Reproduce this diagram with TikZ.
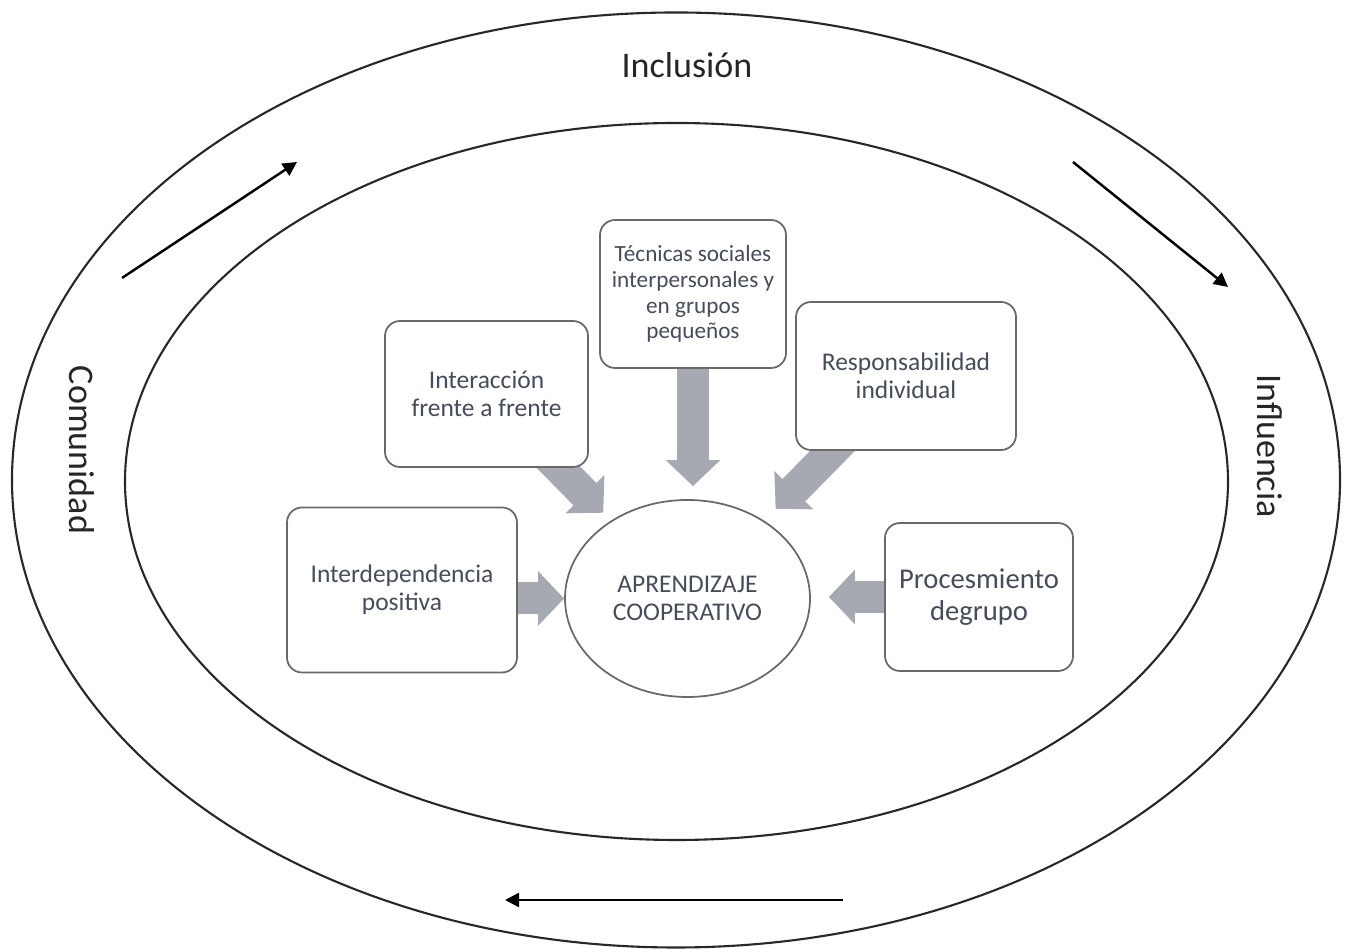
\documentclass[tikz,border=0pt]{standalone}
\usepackage{fontspec}
\setmainfont{Carlito}
\usetikzlibrary{arrows.meta, backgrounds, shapes.geometric}

\definecolor{boxtext}{RGB}{70,76,90}
\definecolor{boxline}{RGB}{105,105,105}
\definecolor{blockgray}{RGB}{166,168,178}
\definecolor{ringline}{RGB}{40,40,40}

\begin{document}
\begin{tikzpicture}[
    box/.style={draw=boxline, line width=1pt, rounded corners=0.3cm, fill=white,
                align=center, text=boxtext, inner sep=2pt,
                font=\fontsize{14.5}{16}\selectfont},
    bigarrow/.style={blockgray, line width=0.64cm, shorten <=-0.5cm,
                     -{Triangle[length=0.52cm,width=1.06cm]}},
    thinarrow/.style={line width=1.4pt, -{Triangle[length=8pt,width=8pt]}},
    ringlabel/.style={text=black!85, font=\fontsize{20.5}{24}\selectfont}
  ]
  \useasboundingbox (0,0) rectangle (26.96,19);

  % rings
  \draw[ringline, line width=1.2pt] (13.52,9.40) ellipse (13.28 and 9.35);
  \draw[ringline, line width=1.2pt] (13.53,9.37) ellipse (11.03 and 7.17);
  \node[ringlabel]             (incl) at (13.74,17.70) {Inclusión};
  \node[ringlabel, rotate=-90] (comu) at (1.64,10.00)  {Comunidad};
  \node[ringlabel, rotate=-90] (infl) at (25.40,10.08) {Influencia};

  % cycle arrows
  \coordinate (a1s) at (2.44,13.44);  \coordinate (a1e) at (5.94,15.76);
  \coordinate (a2s) at (21.46,15.76); \coordinate (a2e) at (24.56,13.26);
  \coordinate (a3s) at (16.86,1.00);  \coordinate (a3e) at (10.10,1.00);
  \draw[thinarrow] (a1s) -- (a1e);
  \draw[thinarrow] (a2s) -- (a2e);
  \draw[thinarrow] (a3s) -- (a3e);

  % centre
  \node[draw=boxline, line width=1pt, ellipse, minimum width=4.9cm, minimum height=3.94cm,
        inner sep=0pt, text=boxtext, align=center, font=\fontsize{14.5}{16}\selectfont]
        (coop) at (13.75,7.03) {APRENDIZAJE\\COOPERATIVO};

  % elements
  \node[box, minimum width=3.72cm, minimum height=2.96cm, font=\fontsize{13.2}{14.7}\selectfont]
        (tec) at (13.86,13.12) {Técnicas sociales\\interpersonales y\\en grupos\\pequeños};
  \node[box, minimum width=4.06cm, minimum height=2.92cm]
        (inter) at (9.73,11.12) {Interacción\\frente a frente};
  \node[box, minimum width=4.40cm, minimum height=2.96cm]
        (resp) at (18.12,11.48) {Responsabilidad\\individual};
  \node[box, minimum width=4.60cm, minimum height=3.30cm]
        (interd) at (8.04,7.20) {Interdependencia\\positiva};
  \node[box, minimum width=3.76cm, minimum height=2.96cm, font=\fontsize{16.3}{18}\selectfont]
        (proc) at (19.58,7.06) {Procesmiento\\degrupo};

  % block arrows
  \begin{scope}[on background layer]
    \draw[bigarrow, shorten >=0.26cm] (tec.south) -- (tec.south |- coop.north);
    \draw[bigarrow, shorten >=0.22cm] (inter) -- (coop);
    \draw[bigarrow, shorten >=0.33cm] (resp) -- (coop);
    \draw[bigarrow] (interd.east |- coop) -- (coop.west);
    \draw[bigarrow, shorten >=0.36cm] (proc.west) -- (proc.west -| coop.east);
  \end{scope}
\end{tikzpicture}
\end{document}
